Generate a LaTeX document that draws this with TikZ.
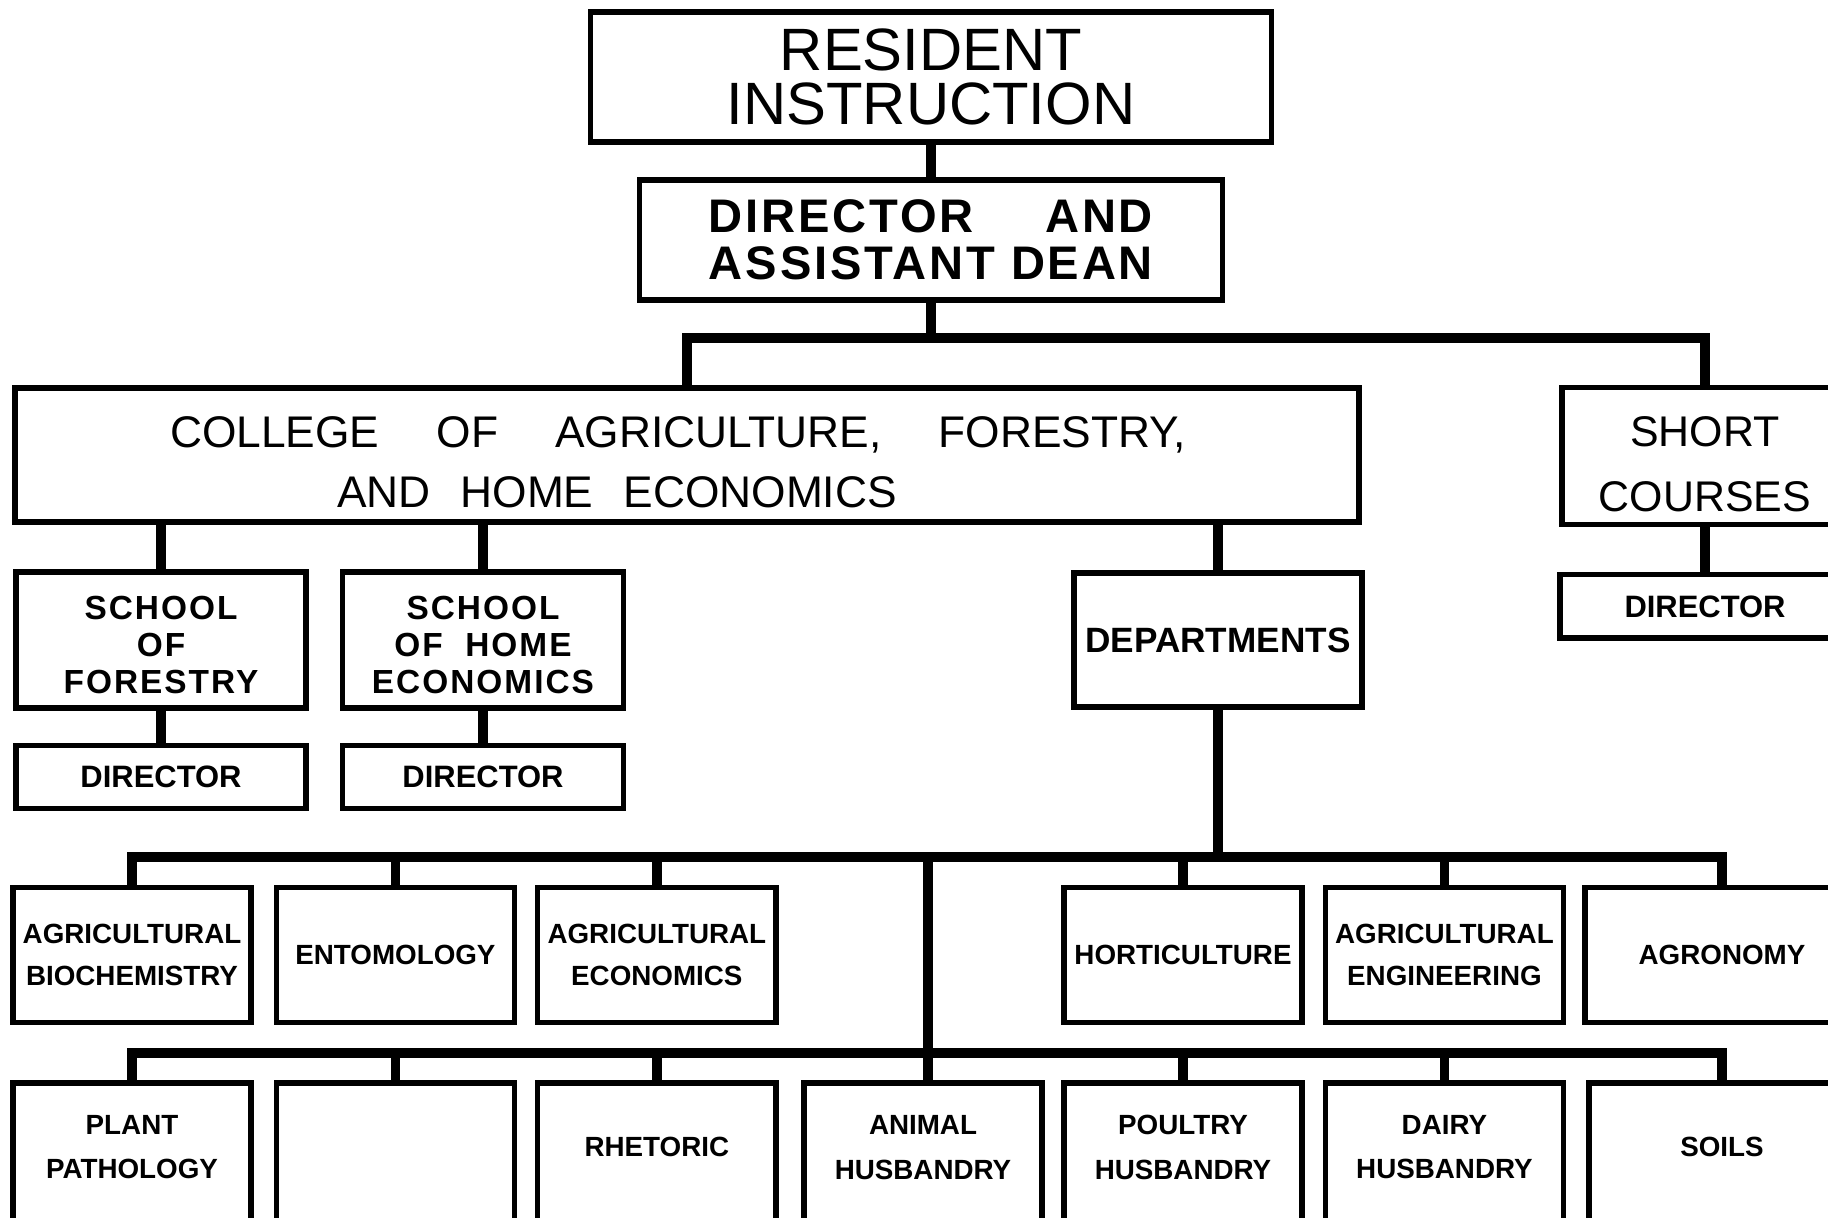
\documentclass[tikz,border=0pt]{standalone}
\usepackage{fontspec}
\setmainfont{Liberation Sans}
\newfontfamily\spacedfont[LetterSpace=6]{Liberation Sans}
\newlength\deanwd
\usetikzlibrary{positioning}

\begin{document}
\begin{tikzpicture}[
    x=0.01cm, y=-0.01cm,
    box/.style={draw, rectangle, line width=1.5pt, inner sep=0pt, align=center},
    head/.style={box, font=\fontsize{17}{15.5}\selectfont},
    school/.style={box, font=\spacedfont\bfseries\fontsize{9.5}{10.5}\selectfont, minimum width=2.9cm, minimum height=1.36cm},
    chief/.style={box, font=\bfseries\fontsize{8.8}{10}\selectfont, minimum width=2.9cm, minimum height=0.63cm},
    dept/.style={box, font=\bfseries\fontsize{7.9}{12}\selectfont, minimum width=2.38cm, minimum height=1.35cm},
    lowdept/.style={dept, minimum height=1.42cm, font=\bfseries\fontsize{7.9}{12.6}\selectfont,
        execute at end node={\rule[-3.8pt]{0pt}{0pt}}},
    link/.style={line width=2.7pt}
]
    \useasboundingbox (0,0) rectangle (1828,1217);
    \clip (0,0) rectangle (1828,1217);

    % head of the chart
    \node[head, minimum width=6.8cm, minimum height=1.3cm] (resident) at (931,77) {RESIDENT\\INSTRUCTION};
    \node[box, font=\spacedfont\bfseries\fontsize{13.4}{13.4}\selectfont, minimum width=5.82cm, minimum height=1.2cm] (dean) at (931,240)
        {\settowidth{\deanwd}{ASSISTANT DEAN}\makebox[\deanwd][s]{DIRECTOR\hfill AND}\\ASSISTANT DEAN};

    \node[box, font=\fontsize{12.6}{17}\selectfont, minimum width=13.43cm, minimum height=1.34cm] (college) at (687,455)
        {\rule{0pt}{13pt}COLLEGE\hspace{0.57cm}OF\hspace{0.57cm}AGRICULTURE,\hspace{0.57cm}FORESTRY,\hspace*{0.18cm}\\AND\hspace{0.3cm}HOME\hspace{0.3cm}ECONOMICS\hspace*{1.4cm}};
    \node[box, font=\fontsize{12.2}{18.5}\selectfont, minimum width=2.86cm, minimum height=1.37cm] (short) at (1705,456) {\rule{0pt}{13pt}SHORT\\COURSES};

    % schools and departments
    \node[school] (forestry) at (161,640) {\rule{0pt}{9.5pt}SCHOOL\\OF\\FORESTRY};
    \node[school, minimum width=2.81cm] (homeec) at (483,640) {\rule{0pt}{9.5pt}SCHOOL\\OF\ \ HOME\\ECONOMICS};
    \node[chief, below=0.32cm of forestry] (fdirector) {DIRECTOR};
    \node[chief, minimum width=2.81cm, below=0.32cm of homeec] (hdirector) {DIRECTOR};
    \node[box, font=\bfseries\fontsize{10}{12}\selectfont, minimum width=2.88cm, minimum height=1.34cm] (depts) at (1218,640) {DEPARTMENTS};
    \node[chief, below=0.45cm of short] (sdirector) {DIRECTOR};

    % first row of departments
    \node[dept] (biochem) at (132,955) {AGRICULTURAL\\BIOCHEMISTRY};
    \node[dept, right=0.2cm of biochem] (ento) {ENTOMOLOGY};
    \node[dept, right=0.18cm of ento] (agecon) {AGRICULTURAL\\ECONOMICS};
    \node[dept] (horti) at (1183,955) {HORTICULTURE};
    \node[dept, right=0.18cm of horti] (ageng) {AGRICULTURAL\\ENGINEERING};
    \node[dept, minimum width=2.74cm] (agronomy) at (1722,955) {AGRONOMY};

    % second row of departments
    \node[lowdept, below=0.55cm of biochem] (pathology) {PLANT\\PATHOLOGY};
    \node[lowdept, below=0.55cm of ento] (blank) {};
    \node[lowdept, below=0.55cm of agecon] (rhetoric) {RHETORIC};
    \node[lowdept] (animal) at (923,1154) {ANIMAL\\HUSBANDRY};
    \node[lowdept, below=0.55cm of horti] (poultry) {POULTRY\\HUSBANDRY};
    \node[lowdept, below=0.55cm of ageng] (dairy) {DAIRY\\HUSBANDRY};
    \node[lowdept, minimum width=2.66cm, below=0.55cm of agronomy] (soils) {SOILS};

    % lines
    \coordinate (topbus) at (931,338);
    \coordinate (upbus) at (928,857);
    \coordinate (lowbus) at (928,1053);

    \draw[link] (resident) -- (dean);
    \draw[link] (dean) -- (topbus);
    \draw[link] (college.north) |- (topbus) -| (short.north);
    \draw[link] (forestry) -- (forestry |- college.south);
    \draw[link] (homeec) -- (homeec |- college.south);
    \draw[link] (depts) -- (depts |- college.south);
    \draw[link] (forestry) -- (fdirector);
    \draw[link] (homeec) -- (hdirector);
    \draw[link] (short) -- (sdirector);

    \draw[link] (depts) -- (depts |- upbus);
    \draw[link] (biochem.north) |- (upbus) -| (agronomy.north);
    \foreach \d in {ento, agecon, horti, ageng}
        \draw[link] (\d) -- (\d |- upbus);
    \draw[link] (upbus) -- (upbus |- animal.north);
    \draw[link] (pathology.north) |- (lowbus) -| (soils.north);
    \foreach \d in {blank, rhetoric, poultry, dairy}
        \draw[link] (\d) -- (\d |- lowbus);
\end{tikzpicture}
\end{document}
